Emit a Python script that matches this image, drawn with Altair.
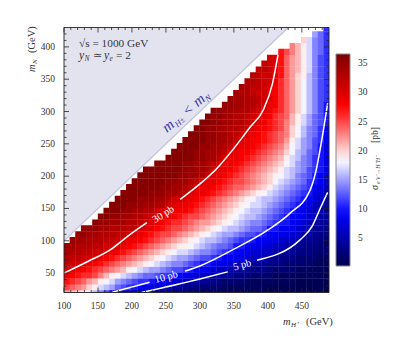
import math
import altair as alt
import pandas as pd

FONT = "Liberation Serif"
INK = "#333333"

STARTS = [0]*9 + [1,2,3,5,6,7,8,9,10,11,12,13,14,16,18,19,20,21,22,23,24,25,26,28,29,30,31,32,33,34,35,36,38,40,42,44,46]

ROWS = [
[22,21,20,19,18,16,14,12,10,9,8,7,6,5,5,4,3,3,3,2,2,2,2,2,1,1,1,1,1,1,1,1,1,1,.5,.5,.5,.5,.5,.5,.5,.5,.5,.5,.5,.5,.5][:33] + [.5]*14,
[25,24,23,22,20,19,17,16,15,13,12,11,10,9,8,8,7,6,5,5,4,4,3,3,2,2,2,2,1,1,1,1,1,1,1,1,.5,.5,.5,.5,.5,.5,.5,.5,.5,.5,.5],
[27,26,25,24,22,21,19,18,17,15,14,13,12,11,11,10,9,9,8,7,7,6,5,5,4,4,3,3,2,2,2,2,1,1,1,1,1,1,1,1,1,.5,.5,.5,.5,.5,.5],
[29,28,27,26,26,25,23,21,19,18,17,16,15,14,13,13,12,11,11,10,9,9,8,7,6,6,5,5,4,4,3,3,3,2,2,2,2,1,1,1,1,1,1,1,1,1,.5],
[30,30,29,28,27,26,25,24,23,22,21,19,18,17,16,15,15,14,13,12,12,11,10,9,9,8,7,6,6,5,5,4,4,3,3,3,2,2,2,2,2,1,1,1,1,1,1],
[32,31,31,30,29,28,27,26,25,24,23,22,21,20,19,18,17,16,15,14,14,13,12,11,10,10,9,8,8,7,6,6,5,4,4,4,3,3,3,2,2,2,2,2,1,1,1],
[33,32,32,31,31,30,29,28,27,26,25,24,23,22,21,20,19,18,17,16,15,15,14,13,12,12,11,10,9,9,8,8,7,6,6,5,4,4,3,3,3,2,2,2,2,1,1],
[34,33,33,32,32,31,31,30,29,28,27,26,25,24,23,22,21,20,19,18,17,17,16,15,14,14,13,12,11,10,9,9,8,7,7,6,6,5,4,4,4,3,3,3,2,2,2],
[34,34,33,33,33,32,32,31,31,30,29,28,27,26,25,24,23,22,21,20,19,19,18,17,16,15,14,13,13,12,10,10,9,8,8,7,7,6,6,5,4,4,3,3,3,2,2],
[35,34,34,33,33,33,32,32,31,30,29,29,28,27,26,25,24,23,22,21,20,19,18,17,16,16,15,14,13,12,11,11,10,9,9,8,8,7,6,6,5,4,4,3,3,2],
[35,35,34,34,33,33,33,32,32,31,30,29,28,27,26,25,25,24,23,22,21,20,19,18,17,16,15,15,14,13,12,12,11,10,9,9,8,8,7,6,5,5,4,3,3],
[35,35,35,34,34,33,33,33,32,32,31,30,29,28,27,26,25,25,24,23,22,21,20,19,18,17,16,16,15,14,13,13,12,10,10,9,9,8,7,6,5,4,4,3],
[36,35,35,34,34,34,33,33,32,31,30,29,28,27,26,26,25,24,23,22,22,21,20,19,18,17,16,15,14,14,13,12,11,10,10,9,8,7,6,5,4,4],
[36,36,35,35,34,34,33,33,32,31,30,29,29,28,27,26,25,25,24,23,22,21,20,19,18,17,16,16,15,14,13,12,11,10,9,9,8,7,6,5,4],
[36,36,36,35,35,34,34,33,33,31,30,29,29,28,28,27,26,25,24,23,22,21,20,19,18,17,16,16,15,14,13,12,11,10,9,8,7,6,5,4],
[36,36,36,35,35,35,34,34,33,33,31,30,29,29,28,27,26,25,24,23,22,21,20,19,18,17,17,16,15,14,13,12,11,10,9,8,6,5,4],
[36,36,36,36,35,35,35,34,34,33,31,30,30,29,28,27,26,25,24,23,22,21,20,19,18,17,16,16,15,14,13,12,11,10,9,8,6,5],
[36,36,36,36,36,35,35,35,34,34,33,32,30,29,29,28,27,26,25,24,23,22,21,20,19,18,17,16,15,14,13,12,11,10,8,7,5],
[36,36,36,36,36,36,35,35,34,34,33,32,30,29,29,28,27,26,25,24,24,23,22,21,20,19,17,16,15,14,13,12,11,9,8,6],
[36,36,36,36,36,36,35,35,34,34,33,32,30,29,29,28,27,26,25,25,24,23,22,21,20,18,17,16,15,14,13,11,10,9,7],
[36,36,36,36,36,36,36,35,35,34,34,33,31,30,29,28,27,26,25,24,23,22,21,20,19,18,17,16,14,13,12,10,9,7],
[36,36,36,36,36,36,36,35,35,34,34,33,31,30,29,28,27,26,25,24,23,22,21,20,19,17,16,15,14,12,11,10,8],
[36,36,36,36,36,35,35,34,34,33,32,30,29,29,28,27,26,25,24,23,22,21,20,18,17,15,14,13,11,10,8],
[36,36,36,36,36,35,35,34,34,32,30,29,29,28,27,26,25,24,23,22,21,19,17,16,14,13,11,10,8],
[36,36,36,36,35,35,34,34,33,32,30,29,28,28,27,26,25,24,23,22,20,18,16,15,13,12,10,9],
[36,36,36,36,35,35,34,34,33,32,30,29,29,28,27,26,25,24,23,21,18,17,15,14,12,10,9],
[36,36,36,36,35,35,34,34,33,32,30,29,28,28,27,26,25,24,22,19,17,15,14,12,11,9],
[36,36,36,35,35,34,34,33,32,31,30,29,28,27,26,25,24,23,20,18,16,14,13,11,9],
[36,36,35,35,34,34,33,33,32,31,30,29,28,27,26,25,23,20,18,16,14,13,11,9],
[36,36,35,35,34,34,33,33,32,31,30,29,27,26,25,23,21,19,17,15,13,12,10],
[36,35,35,34,34,33,33,32,31,30,29,28,26,25,24,21,19,17,15,13,12,10],
[36,35,35,34,34,33,33,32,31,30,29,27,26,24,22,20,18,16,14,12,10],
[35,35,34,34,33,33,32,30,29,28,26,24,22,20,18,16,14,12,10],
[35,34,34,33,33,32,31,30,28,26,24,22,20,18,16,14,12,11],
[34,33,33,32,31,31,29,28,26,24,22,20,18,16,14,12,11],
[34,33,32,32,31,30,28,26,24,22,20,18,16,14,12,11],
[33,33,32,31,31,29,26,24,22,20,18,16,14,12,11],
[33,32,31,31,29,27,24,22,20,19,16,14,12,11],
[32,32,31,29,27,24,22,21,19,17,14,12,11],
[32,31,30,27,24,22,21,19,17,14,12,11],
[31,30,27,24,22,21,19,17,14,12,11],
[27,25,23,21,19,17,14,13,11],
[23,21,19,17,14,13,11],
[20,17,14,13,11],
[15,13,11],
[11],
]

bad = [(j, len(r), 47 - STARTS[j]) for j, r in enumerate(ROWS) if len(r) != 47 - STARTS[j]]
if bad:
    raise ValueError(f"row length mismatches: {bad}")

X_STEP = 390 / 47
Y_STEP = 9.1
Y_ZERO = 14.8
OVER = 0.5

C30A_X = [100, 135, 168, 195, 222]
C30A_Y = [50, 68, 86, 108, 128]
C30B_X = [271, 300, 325, 350, 374, 393, 407, 415]
C30B_Y = [164, 188, 212, 243, 276, 302, 344, 388]
C10A_X = [170, 226]
C10A_Y = [20, 36]
C10B_X = [278, 300, 350, 399, 432, 462, 471, 480, 488]
C10B_Y = [53, 61, 87, 116, 142, 178, 209, 260, 313]
C5A_X = [214, 300, 341]
C5A_Y = [20, 41, 52]
C5B_X = [384, 447, 466, 477, 488]
C5B_Y = [70, 101, 124, 150, 175]

X_LABELS = [100, 150, 200, 250, 300, 350, 400, 450]
Y_LABELS = [50, 100, 150, 200, 250, 300, 350, 400]
BAR_LABELS = [5, 10, 15, 20, 25, 30, 35]
X_MINOR = [v for v in range(110, 490, 10) if v % 50]
Y_MINOR = [v for v in range(30, 430, 10) if v % 50]

W, H = 265, 265
xs = alt.Scale(domain=[100, 490], nice=False, zero=False)
ys = alt.Scale(domain=[20, 430], nice=False, zero=False)
BAR_MIN, BAR_MAX = 0.2, 36.6
cs = alt.Scale(domain=[BAR_MIN, 9.3, 18.4, 27.5, BAR_MAX], interpolate="rgb",
               range=["#00004d", "#0000ff", "#ffffff", "#ff0000", "#7f0000"])

cells = []
for j, row in enumerate(ROWS):
    for k, v in enumerate(row):
        c = STARTS[j] + k
        cells.append({"x0": 100 + c * X_STEP, "x1": 100 + (c + 1) * X_STEP + OVER,
                      "y0": Y_ZERO + j * Y_STEP - OVER, "y1": Y_ZERO + (j + 1) * Y_STEP, "v": v})

heat = alt.Chart(pd.DataFrame(cells)).mark_rect(clip=True).encode(
    x=alt.X("x0:Q", scale=xs, axis=None),
    x2="x1:Q",
    y=alt.Y("y0:Q", scale=ys, axis=None),
    y2="y1:Q",
    color=alt.Color("v:Q", scale=cs, title=None,
                    legend=alt.Legend(type="gradient", orient="none", legendX=272, legendY=26.5,
                                      values=BAR_LABELS, direction="vertical",
                                      gradientLength=212, gradientThickness=14,
                                      gradientStrokeColor="#888888", gradientStrokeWidth=1,
                                      labelFont=FONT, labelFontSize=9.5, labelColor=INK, labelOffset=8)),
)

tri = pd.DataFrame({"x": [100, 430], "y": [100, 430], "top": [430, 430]})
area = alt.Chart(tri).mark_area(color="#e3e3ef", clip=True).encode(
    x=alt.X("x:Q", scale=xs, axis=None), y=alt.Y("y:Q", scale=ys, axis=None), y2="top:Q")
diag = alt.Chart(tri).mark_line(color="#c2c2e0", strokeWidth=1.3, clip=True).encode(
    x=alt.X("x:Q", scale=xs, axis=None), y=alt.Y("y:Q", scale=ys, axis=None))


def contour(xv, yv):
    df = pd.DataFrame({"x": xv, "y": yv})
    return alt.Chart(df).mark_line(color="white", strokeWidth=1.5, interpolate="monotone", clip=True).encode(
        x=alt.X("x:Q", scale=xs, axis=None), y=alt.Y("y:Q", scale=ys, axis=None))


lines = [contour(C30A_X, C30A_Y), contour(C30B_X, C30B_Y), contour(C10A_X, C10A_Y),
         contour(C10B_X, C10B_Y), contour(C5A_X, C5A_Y), contour(C5B_X, C5B_Y)]


def vtick(values, length, side):
    y0, y1 = (H, H - length) if side == "bottom" else (0, length)
    return alt.Chart(pd.DataFrame({"v": values})).mark_rule(color="#222222", strokeWidth=0.8).encode(
        x=alt.X("v:Q", scale=xs, axis=None), y=alt.value(y0), y2=alt.value(y1))


def htick(values, length, side):
    x0, x1 = (0, length) if side == "left" else (W, W - length)
    return alt.Chart(pd.DataFrame({"v": values})).mark_rule(color="#222222", strokeWidth=0.8).encode(
        y=alt.Y("v:Q", scale=ys, axis=None), x=alt.value(x0), x2=alt.value(x1))


ticks = []
for s in ("bottom", "top"):
    ticks += [vtick(X_LABELS, 5, s), vtick(X_MINOR, 2.5, s)]
for s in ("left", "right"):
    ticks += [htick(Y_LABELS, 5, s), htick(Y_MINOR, 2.5, s)]

frame = [
    alt.Chart(pd.DataFrame({"a": [0]})).mark_rule(color="#222222", strokeWidth=0.9).encode(
        x=alt.value(x0), x2=alt.value(x1), y=alt.value(y0), y2=alt.value(y1))
    for x0, x1, y0, y1 in [(0, W, 0, 0), (0, W, H, H), (0, 0, 0, H), (W, W, 0, H)]
]

x_tick_text = alt.Chart(pd.DataFrame({"v": X_LABELS})).mark_text(
    font=FONT, fontSize=9.5, color=INK, align="center", baseline="alphabetic").encode(
    x=alt.X("v:Q", scale=xs, axis=None), y=alt.value(H + 16.5), text="v:Q")
y_tick_text = alt.Chart(pd.DataFrame({"v": Y_LABELS})).mark_text(
    font=FONT, fontSize=9.5, color=INK, align="right", baseline="middle").encode(
    y=alt.Y("v:Q", scale=ys, axis=None), x=alt.value(-9), text="v:Q")

bar_ticks = [
    alt.Chart(pd.DataFrame({"a": [0]})).mark_rule(color="#444444", strokeWidth=0.7).encode(
        x=alt.value(284), x2=alt.value(286),
        y=alt.value(26.5 + 212 * (BAR_MAX - v) / (BAR_MAX - BAR_MIN)))
    for v in BAR_LABELS
]


def txt(s, px, py, size=10, angle=0, style="normal", color=INK, align="left"):
    return alt.Chart(pd.DataFrame({"t": [s]})).mark_text(
        font=FONT, fontSize=size, angle=angle, fontStyle=style, color=color,
        align=align, baseline="alphabetic").encode(
        text="t:N", x=alt.value(px - 64), y=alt.value(py - 27.5))


labels = [
    txt("√s = 1000 GeV", 79, 47, 11.3),
    txt("y", 79, 59, 11.5, style="italic"), txt("N", 84.5, 61, 7.5, style="italic"),
    txt("≃", 93, 59, 11), txt("y", 104, 59, 11.5, style="italic"),
    txt("e", 109.5, 61, 7.5, style="italic"), txt("= 2", 116, 59, 11.3),
    txt("m", 283, 325, 10.5, style="italic"), txt("H⁺", 291, 327, 7, style="italic"),
    txt("(GeV)", 306, 325, 10.5),
    txt("m", 35, 72, 10.5, angle=270, style="italic"), txt("N", 37, 64, 7, angle=270, style="italic"),
    txt("(GeV)", 35, 53, 10.5, angle=270),
    txt("σ", 378, 190, 10, angle=270, style="italic"),
    txt("e⁺e⁻→H⁺H⁻", 380, 184, 6, angle=270, style="italic"),
    txt("[pb]", 378, 143, 9.5, angle=270),
    txt("30 pb", 165, 217, 10.5, angle=328, color="white", align="center"),
    txt("10 pb", 167, 280, 10.5, angle=345, color="white", align="center"),
    txt("5 pb", 243, 268, 10.5, angle=345, color="white", align="center"),
]

BLUE = "#3a3aa8"
AX, AY = math.cos(math.radians(40)), -math.sin(math.radians(40))
PX, PY = -AY, AX
for s, along, perp, size in [("m", 0, 0, 15), ("H±", 11.5, 2.5, 8.5), ("<", 27, 0, 14),
                             ("m", 40, 0, 15), ("N", 51, 2.5, 8.5)]:
    labels.append(txt(s, 167 + along * AX + perp * PX, 133 + along * AY + perp * PY, size,
                      angle=320, style="normal" if s == "<" else "italic", color=BLUE))

chart = alt.layer(heat, area, diag, *lines, *ticks, *frame, x_tick_text, y_tick_text,
                  *bar_ticks, *labels).properties(
    width=W, height=H,
    padding={"left": 56, "top": 19.5, "right": 74, "bottom": 46},
    autosize=alt.AutoSizeParams(type="none"),
).configure_view(stroke=None)

chart.save("out.html", embed_options={"renderer": "svg", "actions": False})
